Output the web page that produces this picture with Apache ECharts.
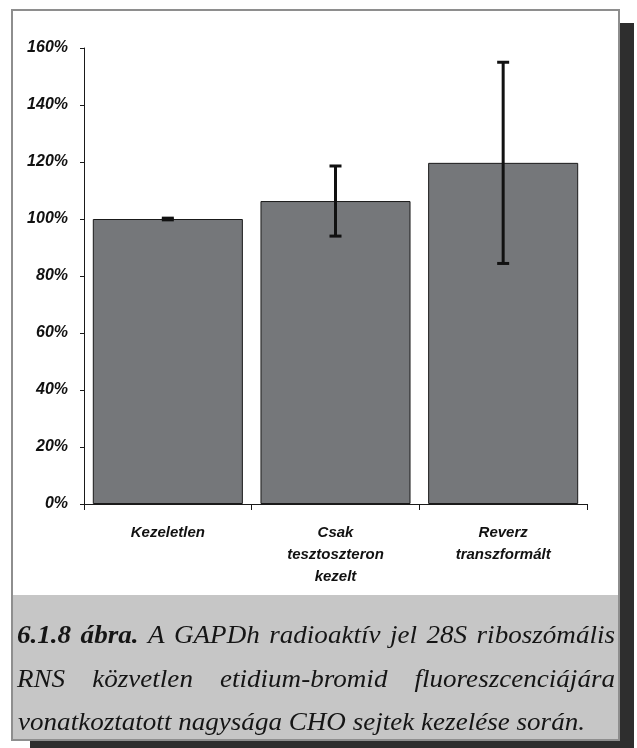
<!DOCTYPE html>
<html>
<head>
<meta charset="utf-8">
<script src="https://cdn.jsdelivr.net/npm/echarts@6/dist/echarts.min.js"></script>
<style>
html,body{margin:0;padding:0;background:#fff;}
#chart{width:637px;height:748px;}
</style>
</head>
<body>
<div id="chart"></div>
<script>
// ---- data ----
var categories = ['Kezeletlen', 'Csak\ntesztoszteron\nkezelt', 'Reverz\ntranszformált'];
var values = [1.00, 1.063, 1.197];
var errors = [0.003, 0.123, 0.353];
var yTicks = { min: 0, max: 1.6, interval: 0.2 };
var captionLine1 = [['6.1.8', true], ['ábra.', true], ['A', false], ['GAPDh', false], ['radioaktív', false], ['jel', false], ['28S', false], ['riboszómális', false]];
var captionLine2 = ['RNS', 'közvetlen', 'etidium-bromid', 'fluoreszcenciájára'];
var captionLine3 = 'vonatkoztatott nagysága CHO sejtek kezelése során.';

// ---- chart ----
var chart = echarts.init(document.getElementById('chart'), null, { renderer: 'canvas' });

var capFont = 26;
var capFamily = "'Liberation Serif', 'Times New Roman', serif";
var mctx = document.createElement('canvas').getContext('2d');
function fontOf(bold) { return 'italic ' + (bold ? 'bold ' : '') + capFont + 'px ' + capFamily; }
function measure(t, bold) { mctx.font = fontOf(bold); return mctx.measureText(t).width; }
var sx = 567 / measure(captionLine3, false);
function textEl(t, bold, x, y) {
  return {
    type: 'text', x: x, y: y, z: 5, scaleX: sx, scaleY: 1,
    style: { text: t, fill: '#151515', font: fontOf(bold), textVerticalAlign: 'middle' }
  };
}
function justify(words, x0, x1, y) {
  var ws = words.map(function (w) { return measure(w[0], w[1]) * sx; });
  var sum = ws.reduce(function (a, b) { return a + b; }, 0);
  var gap = (x1 - x0 - sum) / (words.length - 1);
  var x = x0, out = [];
  words.forEach(function (w, i) {
    out.push(textEl(w[0], w[1], x, y));
    x += ws[i] + gap;
  });
  return out;
}

var captionEls = []
  .concat(justify(captionLine1, 17, 615, 636))
  .concat(justify(captionLine2.map(function (w) { return [w, false]; }), 17, 615, 680))
  .concat([textEl(captionLine3, false, 18, 723)]);

var bgEls = [
  { type: 'rect', z: -5, shape: { x: 619, y: 23, width: 15, height: 725 }, style: { fill: '#2e2e2e' } },
  { type: 'rect', z: -5, shape: { x: 30, y: 740, width: 604, height: 8 }, style: { fill: '#2e2e2e' } },
  { type: 'rect', z: -4, shape: { x: 12, y: 10, width: 607, height: 730 }, style: { fill: '#ffffff', stroke: '#8e8e8e', lineWidth: 2 } },
  { type: 'rect', z: -3, shape: { x: 13, y: 595, width: 605, height: 144 }, style: { fill: '#c6c6c6' } }
];

var labelFont = { fontFamily: "'Liberation Sans', Arial, sans-serif", fontStyle: 'italic', fontWeight: 'bold', fontSize: 16, color: '#111' };

chart.setOption({
  animation: false,
  backgroundColor: '#ffffff',
  graphic: { elements: bgEls.concat(captionEls) },
  grid: { left: 84, right: 50, top: 48, bottom: 244, containLabel: false },
  xAxis: {
    type: 'category',
    data: categories,
    axisLine: { lineStyle: { color: '#1a1a1a', width: 1 } },
    axisTick: { show: true, length: 6, lineStyle: { color: '#1a1a1a' } },
    axisLabel: Object.assign({ margin: 18, lineHeight: 22, interval: 0 }, labelFont, { fontSize: 15 }),
    splitLine: { show: false }
  },
  yAxis: {
    type: 'value',
    min: yTicks.min, max: yTicks.max, interval: yTicks.interval,
    axisLine: { show: true, lineStyle: { color: '#1a1a1a', width: 1 } },
    axisTick: { show: true, length: 4, lineStyle: { color: '#1a1a1a' } },
    axisLabel: Object.assign({ margin: 16, formatter: function (v) { return Math.round(v * 100) + '%'; } }, labelFont),
    splitLine: { show: false }
  },
  series: [
    {
      type: 'bar',
      data: values,
      barCategoryGap: '10.5%',
      itemStyle: { color: '#75777a', borderColor: '#1a1a1a', borderWidth: 1 },
      z: 2
    },
    {
      type: 'custom',
      z: 3,
      data: values.map(function (v, i) { return [i, v - errors[i], v + errors[i]]; }),
      renderItem: function (params, api) {
        var lo = api.coord([api.value(0), api.value(1)]);
        var hi = api.coord([api.value(0), api.value(2)]);
        var hw = 6;
        var st = { stroke: '#111', lineWidth: 3 };
        return {
          type: 'group',
          children: [
            { type: 'line', shape: { x1: hi[0], y1: hi[1], x2: lo[0], y2: lo[1] }, style: st },
            { type: 'line', shape: { x1: hi[0] - hw, y1: hi[1], x2: hi[0] + hw, y2: hi[1] }, style: st },
            { type: 'line', shape: { x1: lo[0] - hw, y1: lo[1], x2: lo[0] + hw, y2: lo[1] }, style: st }
          ]
        };
      }
    }
  ]
});
</script>
</body>
</html>
